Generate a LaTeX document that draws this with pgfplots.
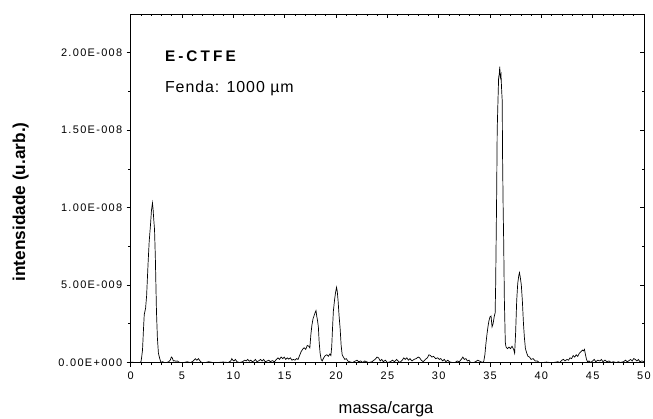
\documentclass[border=0pt]{standalone}
\usepackage{fontspec}
\setmainfont{Liberation Sans}
\newfontfamily\mytickfam[LetterSpace=12]{Liberation Sans}
\newfontfamily\titlefont[LetterSpace=20]{Liberation Sans}
\newfontfamily\fendafont[LetterSpace=6]{Liberation Sans}
\newcommand\tl[1]{{\mytickfam\fontsize{11}{13}\selectfont #1}}
\usepackage{pgfplots}
\pgfplotsset{compat=1.18}
\begin{document}
\begin{tikzpicture}
\pgfplotsset{
  commonax/.style={
    scale only axis, width=513.3bp, height=348.5bp,
    xmin=0, xmax=50, ymin=0, ymax=22.5,
    xtick={0,5,10,15,20,25,30,35,40,45,50}, minor x tick num=4,
    ytick={0,5,10,15,20}, minor y tick num=1,
    major tick length=4bp, minor tick length=2.5bp,
    xtick style={black, line width=0.6bp},
    ytick style={black, line width=0.6bp},
    axis line style={line width=0.7bp},
    at={(0,0)}, anchor=south west,
  }
}
\begin{axis}[commonax,
  xtick pos=right, ytick pos=right, tick align=inside,
  xticklabels={}, yticklabels={},
]
\end{axis}
\begin{axis}[commonax,
  xtick pos=left, ytick pos=left, tick align=outside,
  xticklabels={\tl{0},\tl{5},\tl{10},\tl{15},\tl{20},\tl{25},\tl{30},\tl{35},\tl{40},\tl{45},\tl{50}},
  yticklabels={\tl{0.00E+000},\tl{5.00E-009},\tl{1.00E-008},\tl{1.50E-008},\tl{2.00E-008}},
  xticklabel style={anchor=north, yshift=-2bp},
  yticklabel style={anchor=east, xshift=-1bp},
  xlabel={massa/carga},
  ylabel={\bfseries intensidade (u.arb.)},
  xlabel style={at={(axis description cs:0.4975,-0.145)}, anchor=base, font=\fontsize{16.6}{19}\selectfont},
  ylabel style={at={(axis description cs:-0.2059,0.461)}, anchor=base, font=\fontsize{17.3}{20}\selectfont},
]
\addplot[black, line width=0.7bp, no markers] coordinates {
(0,0.02) (0.5,0) (0.9,0) (1.0,0.05) (1.06,0.3) (1.15,0.8) (1.25,2.2) (1.32,3.1)
(1.45,3.5) (1.55,4.3) (1.7,6.5) (1.8,7.8) (1.93,8.9) (2.02,9.8) (2.12,10.3)
(2.18,9.9) (2.25,9.2) (2.32,8.6) (2.4,6.8) (2.51,3.3) (2.6,1.6) (2.7,0.6)
(2.83,0.25) (2.95,0) (3.1,0.05) (3.3,0) (3.5,0) (3.7,0.05) (3.85,0.15)
(3.96,0.35) (4.05,0.3) (4.15,0.1) (4.25,0.12) (4.4,0.08) (4.55,0.1) (4.7,0.02)
(4.9,0) (5.2,0) (5.5,0.05) (5.8,0) (6.0,0.05) (6.15,0.15) (6.3,0.25) (6.45,0.15)
(6.6,0.25) (6.75,0.1) (6.9,0) (7.3,0) (7.6,0.05) (8.0,0) (8.5,0) (9.0,0.03)
(9.5,0) (9.75,0.1) (9.85,0.25) (9.95,0.15) (10.05,0.1) (10.2,0.2) (10.35,0.05)
(10.6,0) (10.9,0.05) (11.1,0.15) (11.25,0.1) (11.4,0.2) (11.55,0.08) (11.7,0.15)
(11.85,0.05) (12.0,0.1) (12.15,0.2) (12.3,0.05) (12.5,0.12) (12.65,0.2) (12.8,0.1)
(12.95,0.2) (13.1,0.05) (13.3,0.1) (13.45,0.15) (13.6,0.05) (13.8,0.12) (14.0,0.05)
(14.2,0.2) (14.35,0.3) (14.5,0.2) (14.65,0.35) (14.8,0.25) (14.95,0.35) (15.1,0.2)
(15.25,0.3) (15.4,0.22) (15.55,0.3) (15.7,0.15) (15.85,0.2) (16.0,0.15) (16.15,0.25)
(16.3,0.2) (16.45,0.45) (16.6,0.7) (16.75,0.85) (16.9,0.95) (17.05,0.85) (17.2,1.1)
(17.35,1.05) (17.45,0.95) (17.55,1.8) (17.65,2.4) (17.75,2.8) (17.85,3.0) (17.95,3.2)
(18.05,3.35) (18.12,3.0) (18.2,2.7) (18.28,2.3) (18.36,1.3) (18.45,0.6) (18.55,0.2)
(18.65,0.1) (18.8,0.3) (18.95,0.45) (19.1,0.5) (19.25,0.4) (19.4,0.55) (19.5,0.45)
(19.58,1.0) (19.66,2.2) (19.74,3.3) (19.85,4.0) (19.95,4.5) (20.05,4.85) (20.12,4.6)
(20.2,4.0) (20.3,3.0) (20.4,2.2) (20.5,1.1) (20.6,0.5) (20.72,0.35) (20.86,0.2)
(21.0,0.25) (21.15,0.1) (21.3,0.05) (21.6,0) (21.9,0.1) (22.05,0.15) (22.2,0.05)
(22.4,0.1) (22.6,0) (22.8,0.1) (22.95,0.05) (23.2,0) (23.5,0.05) (23.8,0.2)
(24.0,0.35) (24.15,0.3) (24.3,0.1) (24.45,0.2) (24.6,0.05) (24.8,0.15) (25.0,0)
(25.3,0.05) (25.5,0.15) (25.7,0.05) (25.9,0.2) (26.05,0.1) (26.2,0) (26.45,0.15)
(26.6,0.3) (26.75,0.2) (26.9,0.3) (27.05,0.15) (27.2,0.25) (27.4,0.1) (27.6,0.2)
(27.8,0.25) (28.0,0.35) (28.15,0.3) (28.3,0.15) (28.5,0.05) (28.7,0.2) (28.9,0.3)
(29.05,0.5) (29.2,0.45) (29.35,0.35) (29.5,0.4) (29.7,0.25) (29.9,0.3) (30.05,0.2)
(30.2,0.25) (30.4,0.1) (30.55,0.2) (30.7,0.05) (30.9,0.15) (31.05,0.05) (31.3,0)
(31.6,0) (31.8,0.1) (32.0,0.05) (32.2,0.2) (32.35,0.35) (32.5,0.2) (32.65,0.25)
(32.8,0.1) (32.95,0.15) (33.1,0) (33.4,0) (33.6,0.05) (33.8,0.15) (33.95,0.1)
(34.1,0.05) (34.3,0) (34.4,0.1) (34.5,0.5) (34.6,1.2) (34.7,1.8) (34.8,2.3)
(34.9,2.7) (35.0,2.95) (35.1,3.0) (35.2,2.3) (35.3,2.5) (35.42,3.0) (35.5,3.2)
(35.55,5.0) (35.6,8.0) (35.65,11.0) (35.7,15.0) (35.78,17.0) (35.84,18.4) (35.9,18.6)
(35.95,19.1) (36.0,18.4) (36.07,18.6) (36.14,17.5) (36.19,16.9) (36.22,13.5) (36.28,10.0)
(36.33,7.9) (36.4,4.0) (36.49,1.3) (36.56,1.0) (36.7,0.9) (36.85,1.0) (37.0,0.9)
(37.15,1.05) (37.3,0.85) (37.4,0.6) (37.5,2.0) (37.6,4.0) (37.7,5.1) (37.8,5.6)
(37.87,5.8) (37.95,5.5) (38.05,5.0) (38.15,4.0) (38.26,2.5) (38.35,1.6) (38.45,0.9)
(38.58,0.6) (38.7,0.4) (38.85,0.35) (39.0,0.2) (39.2,0.25) (39.4,0.1) (39.6,0.1)
(39.8,0) (40.2,0) (40.5,0.03) (40.8,0) (41.2,0) (41.6,0.05) (41.8,0) (42.0,0.15)
(42.15,0.2) (42.3,0.1) (42.5,0.2) (42.65,0.15) (42.8,0.3) (42.95,0.25) (43.1,0.45)
(43.25,0.35) (43.4,0.5) (43.55,0.4) (43.7,0.6) (43.85,0.7) (44.0,0.8) (44.1,0.75)
(44.2,0.85) (44.3,0.5) (44.4,0.2) (44.5,0.05) (44.65,0.1) (44.8,0) (45.0,0.1)
(45.15,0.2) (45.3,0.05) (45.5,0.15) (45.7,0.1) (45.85,0.2) (46.0,0.05) (46.2,0.15)
(46.4,0.05) (46.6,0.1) (46.8,0) (47.0,0.05) (47.3,0) (47.5,0.05) (47.7,0)
(48.0,0.05) (48.2,0.15) (48.35,0.05) (48.5,0.1) (48.7,0.2) (48.85,0.1) (49.0,0.25)
(49.15,0.2) (49.3,0.1) (49.45,0.2) (49.6,0.05) (49.8,0.1) (50,0.05)
};
\node[anchor=west, font=\titlefont\bfseries\fontsize{15.4}{18}\selectfont] at (axis cs:3.0,19.8) {E-CTFE};
\node[anchor=west, font=\fendafont\fontsize{16}{19}\selectfont] at (axis cs:3.0,17.7) {Fenda: 1000 µm};
\end{axis}
\pgfresetboundingbox
\path[use as bounding box] (-130.7bp,-56.5bp) rectangle (522.3bp,362.5bp);
\end{tikzpicture}
\end{document}
